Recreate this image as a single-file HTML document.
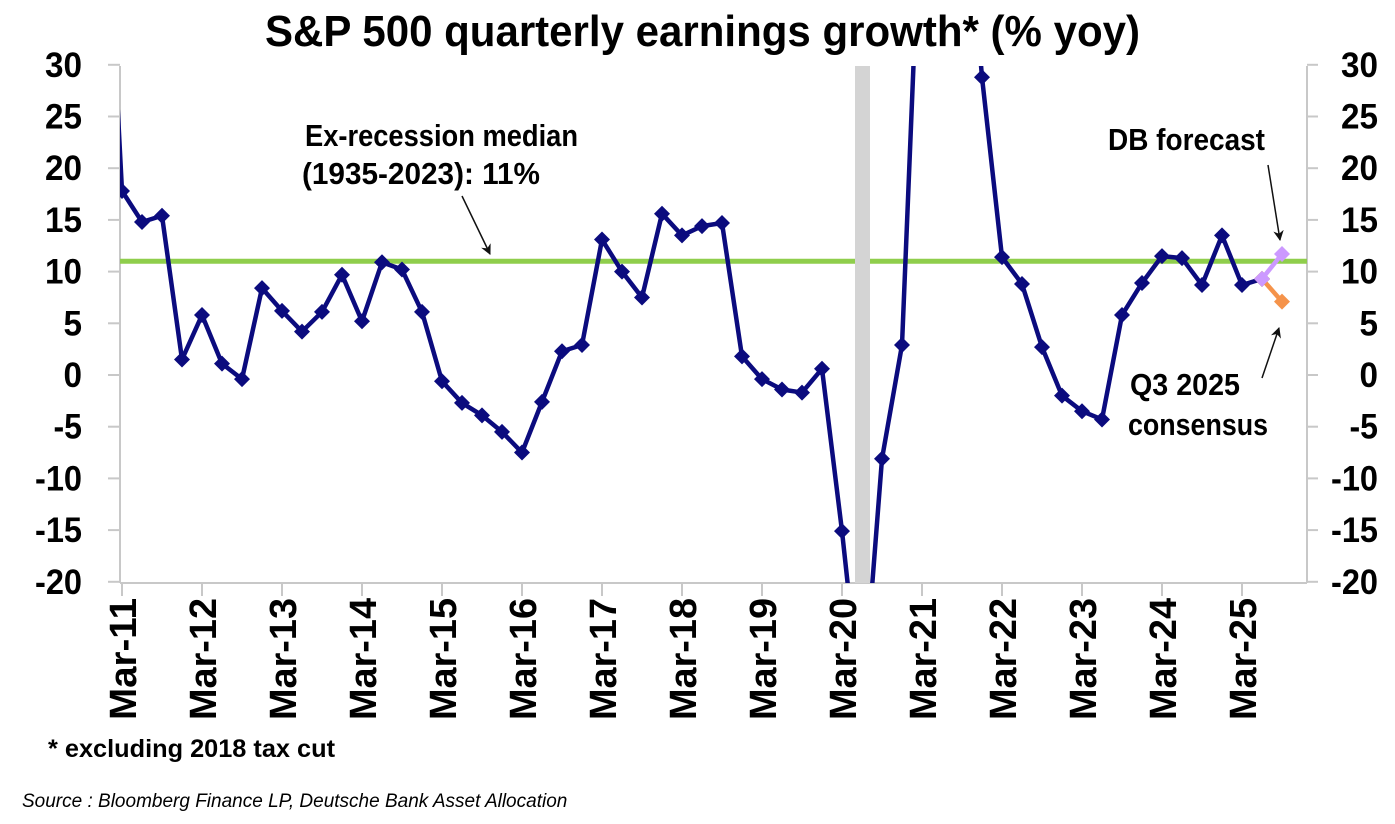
<!DOCTYPE html>
<html><head><meta charset="utf-8"><style>
body{margin:0;background:#fff;width:1395px;height:819px;overflow:hidden}
svg text{font-family:"Liberation Sans Narrow","Liberation Sans",sans-serif;font-weight:bold;fill:#000}
</style></head><body>
<svg id="chart" width="1395" height="819">
<defs><clipPath id="plotclip"><rect x="120" y="66" width="1187" height="517"/></clipPath>
<marker id="arr" viewBox="0 0 10 10" refX="9" refY="5" markerWidth="7" markerHeight="7" orient="auto"><path d="M0,0 L10,5 L0,10 L3,5 z" fill="#111"/></marker></defs>
<text x="265" y="46" font-size="44" textLength="875" lengthAdjust="spacingAndGlyphs">S&amp;P 500 quarterly earnings growth* (% yoy)</text>
<g id="axes"></g>
<rect x="855" y="66" width="15" height="517" fill="#d4d4d4"/>
<g id="series" clip-path="url(#plotclip)"></g>
<text x="305" y="146" font-size="31" textLength="273" lengthAdjust="spacingAndGlyphs">Ex-recession median</text>
<text x="302" y="184" font-size="31" textLength="238" lengthAdjust="spacingAndGlyphs">(1935-2023): 11%</text>
<line x1="462" y1="196" x2="490" y2="254" stroke="#111" stroke-width="1.5" marker-end="url(#arr)"/>
<text x="1108" y="150" font-size="31" textLength="157" lengthAdjust="spacingAndGlyphs">DB forecast</text>
<line x1="1268" y1="165" x2="1280" y2="240" stroke="#111" stroke-width="1.5" marker-end="url(#arr)"/>
<text x="1130" y="395" font-size="31" textLength="110" lengthAdjust="spacingAndGlyphs">Q3 2025</text>
<text x="1128" y="435" font-size="31" textLength="140" lengthAdjust="spacingAndGlyphs">consensus</text>
<line x1="1262" y1="378" x2="1279" y2="328" stroke="#111" stroke-width="1.5" marker-end="url(#arr)"/>
<text x="48" y="757" font-size="25" textLength="287" lengthAdjust="spacingAndGlyphs">* excluding 2018 tax cut</text>
<text x="22" y="807" font-size="19" font-style="italic" style="font-weight:normal;font-family:'Liberation Sans',sans-serif">Source : Bloomberg Finance LP, Deutsche Bank Asset Allocation</text>
</svg>
<script>
const yTicks=[30,25,20,15,10,5,0,-5,-10,-15,-20];
const xLabels=["Mar-11","Mar-12","Mar-13","Mar-14","Mar-15","Mar-16","Mar-17","Mar-18","Mar-19","Mar-20","Mar-21","Mar-22","Mar-23","Mar-24","Mar-25"];
// quarterly from Dec-10 (index -1) to Jun-25
const actual=[55,17.8,14.8,15.4,1.5,5.8,1.1,-0.4,8.4,6.2,4.2,6.1,9.7,5.2,10.9,10.2,6.1,-0.6,-2.7,-3.9,-5.5,-7.5,-2.6,2.3,2.9,13.1,10,7.5,15.6,13.5,14.4,14.7,1.8,-0.4,-1.4,-1.7,0.6,-15.1,-33,-8.1,2.9,50,90,52,28.8,11.4,8.8,2.7,-2.0,-3.5,-4.3,5.8,8.9,11.5,11.3,8.7,13.5,8.7,9.3];
const forecast=[9.3,11.7];
const consensus=[9.3,7.1];
const median=11;
const ns="http://www.w3.org/2000/svg";
const X=i=>122+20*i;
const Y=v=>375-(v)*10.34;
const ax=document.getElementById('axes'), sr=document.getElementById('series');
function mk(t,a,p){const e=document.createElementNS(ns,t);for(const k in a)e.setAttribute(k,a[k]);(p||ax).appendChild(e);return e;}
const grey="#c8c8c8";
const RX=1307;
mk('line',{x1:120,y1:66,x2:120,y2:583,stroke:grey,'stroke-width':2});
mk('line',{x1:RX,y1:66,x2:RX,y2:583,stroke:grey,'stroke-width':2});
mk('line',{x1:120,y1:583,x2:RX,y2:583,stroke:grey,'stroke-width':2});
yTicks.forEach(v=>{
 const s=String(v), w=String(Math.abs(v)).length*18.5+(v<0?10:0);
 mk('line',{x1:108,y1:Y(v),x2:120,y2:Y(v),stroke:grey,'stroke-width':2});
 mk('line',{x1:RX,y1:Y(v),x2:RX+11,y2:Y(v),stroke:grey,'stroke-width':2});
 const l=mk('text',{x:82-w,y:Y(v)+12,'font-size':35,textLength:w,lengthAdjust:'spacingAndGlyphs'});l.textContent=s;
 
 
 const r=mk('text',{x:1378-w,y:Y(v)+12,'font-size':35,textLength:w,lengthAdjust:'spacingAndGlyphs'});r.textContent=s;
 
 
});
xLabels.forEach((s,k)=>{
 const x=X(4*k);
 mk('line',{x1:x,y1:583,x2:x,y2:596,stroke:grey,'stroke-width':2});
 const t=mk('text',{x:0,y:0,'font-size':38,textLength:122,lengthAdjust:'spacingAndGlyphs',transform:`translate(${x+14},720) rotate(-90)`});t.textContent=s;
 
 
});
const ml=mk('line',{x1:120,y1:Y(median),x2:RX,y2:Y(median),stroke:'#8fce4c','stroke-width':5});


function series(vals,start,color,name){
 const pts=vals.map((v,i)=>X(start+i)+','+Y(v)).join(' ');
 const pl=mk('polyline',{points:pts,fill:'none',stroke:color,'stroke-width':4.5,'stroke-linejoin':'round'},sr);
 
 
 vals.forEach((v,i)=>{const x=X(start+i),y=Y(v);
  const d=mk('polygon',{points:`${x},${y-8} ${x+8},${y} ${x},${y+8} ${x-8},${y}`,fill:color},sr);
  
  });
}
series(actual,-1,'#0b0b7e','actual');
series(consensus,57,'#f5934a','consensus');
series(forecast,57,'#cc99ff','db-forecast');
</script>
</body></html>
